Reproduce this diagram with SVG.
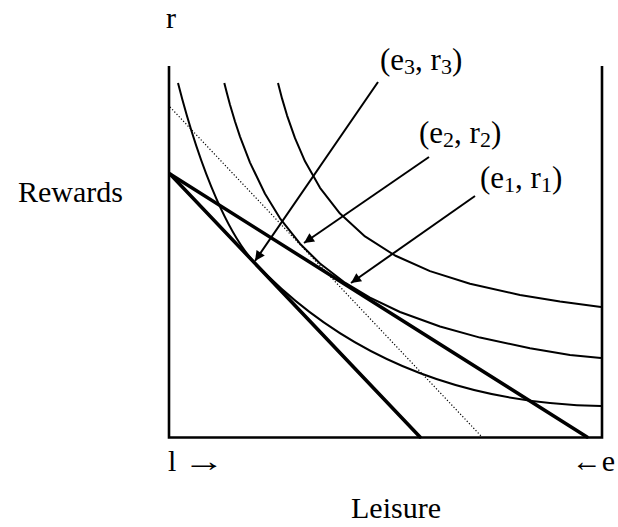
<svg xmlns="http://www.w3.org/2000/svg" width="618" height="527" viewBox="0 0 618 527">
<defs>
<style>
text{font-family:"Liberation Serif","Times New Roman",serif;font-size:30px;fill:#000}
.lbl{font-size:31px}
.sub{font-size:22px}
.axis{stroke:#000;stroke-width:2.6;fill:none}
.curve{stroke:#000;stroke-width:2;fill:none;stroke-linejoin:round}
.budget{stroke:#000;stroke-width:3.5;fill:none;stroke-linecap:round}
.dotted{stroke:#000;stroke-width:1.2;fill:none;stroke-dasharray:1.2 2}
.arrow{stroke:#000;stroke-width:2;fill:none;marker-end:url(#ah)}
</style>
<marker id="ah" viewBox="0 0 10 10" refX="10" refY="5" markerWidth="7" markerHeight="5" markerUnits="strokeWidth" orient="auto">
<path d="M0,0 L10,5 L0,10 z" fill="#000"/>
</marker>
</defs>
<rect width="618" height="527" fill="#fff"/>
<g id="axes">
<path class="axis" d="M169,66 V437.5 H602 V66"/>
</g>
<g id="indifference-curves">
<polyline id="curve1" class="curve" points="278,83 282,98.4 287,115.3 295,138.2 305,161.3 320,187.8 340,213.6 365,236.4 395,255.5 430,271.1 470,283.8 520,295 560,301.6 601,307"/>
<polyline id="curve2" class="curve" points="224.3,83 227,93.6 230,104.7 235,121.5 240,136.6 250,162.6 265,193.8 280,218.3 300,243.7 320,263.5 345,282.7 370,297.7 400,312 440,326.5 480,337.6 530,348.2 570,355 601,358"/>
<path id="curve3" class="curve" d="M178,83 C202,177 230.6,237.3 255,263 C343,355.5 458.3,403.3 601,406"/>
</g>
<g id="budget-lines">
<line class="budget" x1="170" y1="174" x2="587" y2="437"/>
<line class="budget" x1="170" y1="174" x2="420" y2="437"/>
<line class="dotted" x1="170" y1="107" x2="482" y2="437"/>
</g>
<g id="connectors">
<line class="arrow" x1="378" y1="82" x2="255" y2="261"/>
<line class="arrow" x1="429" y1="157" x2="304" y2="243"/>
<line class="arrow" x1="475" y1="196" x2="351" y2="283"/>
</g>
<g id="labels">
<text x="166" y="28">r</text>
<text id="label-e3" class="lbl" x="380" y="70">(e<tspan class="sub" dy="4">3</tspan><tspan dy="-4">, r</tspan><tspan class="sub" dy="4">3</tspan><tspan dy="-4">)</tspan></text>
<text id="label-e2" class="lbl" x="419" y="143">(e<tspan class="sub" dy="4">2</tspan><tspan dy="-4">, r</tspan><tspan class="sub" dy="4">2</tspan><tspan dy="-4">)</tspan></text>
<text id="label-e1" class="lbl" x="480" y="188">(e<tspan class="sub" dy="4">1</tspan><tspan dy="-4">, r</tspan><tspan class="sub" dy="4">1</tspan><tspan dy="-4">)</tspan></text>
<text x="123" y="202" text-anchor="end">Rewards</text>
<text x="168" y="471">l</text>
<text transform="translate(183,471) scale(1.4,1)">→</text>
<text x="615" y="471" text-anchor="end">←e</text>
<text x="396" y="518" text-anchor="middle">Leisure</text>
</g>
</svg>
